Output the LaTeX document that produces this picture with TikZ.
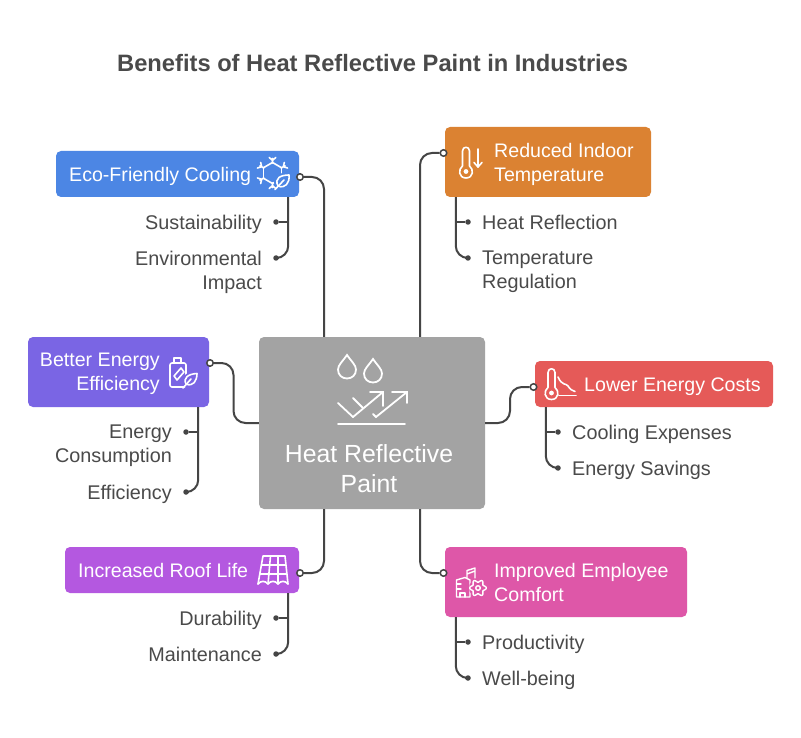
\documentclass[tikz,border=0pt]{standalone}
\usepackage{fontspec}
\setmainfont{Liberation Sans}
\definecolor{cblue}{HTML}{4C86E4}
\definecolor{cviolet}{HTML}{7A65E4}
\definecolor{cpurple}{HTML}{B458E0}
\definecolor{corange}{HTML}{DB8232}
\definecolor{cred}{HTML}{E55A58}
\definecolor{cpink}{HTML}{DE57A8}
\definecolor{cgray}{HTML}{A3A3A3}
\definecolor{cline}{HTML}{454545}
\definecolor{ctext}{HTML}{4A4A4A}
\tikzset{
  boxnode/.style={rectangle,rounded corners=5pt,inner sep=0pt,draw=none},
  boxtext/.style={inner sep=0pt,text=white,yshift=9.6pt,font=\fontsize{19.6}{24}\selectfont,execute at begin node=\strut},
  subtext/.style={inner sep=0pt,text=ctext,yshift=9.6pt,font=\fontsize{19.8}{24}\selectfont,execute at begin node=\strut},
  lft/.style={anchor=north west,align=left},
  rgt/.style={anchor=north east,align=right},
  twolines/.style={yshift=-2.3pt},
  port/.style={circle,draw=cline,fill=white,line width=1.5pt,minimum size=6.5pt,inner sep=0pt},
  dotnode/.style={circle,fill=cline,minimum size=5.5pt,inner sep=0pt},
  link/.style={draw=cline,line width=2pt,rounded corners=12pt},
  icon/.style={draw=white,line width=1.6pt,line cap=round,line join=round},
  bigicon/.style={draw=white,line width=1.8pt,line cap=round,line join=miter},
  myDrop/.pic={
    \draw[bigicon] (0,0) .. controls (-4,6) and (-9,10) .. (-9,14.5) .. controls (-9,20) and (-5,23.5) .. (0,23.5)
      .. controls (5,23.5) and (9,20) .. (9,14.5) .. controls (9,10) and (4,6) .. (0,0) -- cycle;
  },
  myThermo/.pic={
    \draw[icon] (3.5,-5.5) -- (3.5,-20.5) .. controls (3.5,-25.5) and (-3.5,-25.5) .. (-3.5,-20.5) -- (-3.5,-5.5)
      .. controls (-8,-2.5) and (-7.5,6.5) .. (0,6.5) .. controls (7.5,6.5) and (8,-2.5) .. (3.5,-5.5);
    \fill[white] (0,0) circle[radius=2.4];
  },
}
\begin{document}
\begin{tikzpicture}[x=1pt,y=-1pt]
\useasboundingbox (0,0) rectangle (801,738);
\fill[white] (0,0) rectangle (801,738);

\node[inner sep=0pt,anchor=base west,text=ctext,font=\fontsize{23.7}{28}\bfseries\selectfont] (title) at (117,72) {Benefits of Heat Reflective Paint in Industries};

% main boxes
\node[boxnode,fill=cgray,minimum width=226pt,minimum height=172pt] (hub) at (372,423) {};
\node[boxnode,fill=cblue,minimum width=243pt,minimum height=46pt] (eco) at (177.5,174) {};
\node[boxnode,fill=cviolet,minimum width=181pt,minimum height=70pt] (better) at (118.5,372) {};
\node[boxnode,fill=cpurple,minimum width=234pt,minimum height=46pt] (roof) at (182,570) {};
\node[boxnode,fill=corange,minimum width=206pt,minimum height=70pt] (indoor) at (548,162) {};
\node[boxnode,fill=cred,minimum width=238pt,minimum height=46pt] (costs) at (654,384) {};
\node[boxnode,fill=cpink,minimum width=242pt,minimum height=70pt] (comfort) at (566,582) {};

% box labels
\node[inner sep=0pt,text=white,font=\fontsize{24.8}{30}\selectfont,align=center,anchor=north,yshift=10pt,execute at begin node=\strut] (hubtext) at (369,454) {Heat Reflective\\Paint};
\node[boxtext,lft] (ecotext) at (69,174) {Eco-Friendly Cooling};
\node[boxtext,rgt,twolines] (bettertext) at (160,360) {Better Energy\\Efficiency};
\node[boxtext,lft] (rooftext) at (78,570) {Increased Roof Life};
\node[boxtext,lft,twolines] (indoortext) at (494,150) {Reduced Indoor\\Temperature};
\node[boxtext,lft] (coststext) at (584,384) {Lower Energy Costs};
\node[boxtext,lft,twolines] (comforttext) at (494,570) {Improved Employee\\Comfort};

% sub texts
\node[subtext,rgt] (s1) at (262,222) {Sustainability};
\node[subtext,rgt,twolines] (s2) at (262,258) {Environmental\\Impact};
\node[subtext,rgt,twolines] (s3) at (172,432) {Energy\\Consumption};
\node[subtext,rgt] (s4) at (172,492) {Efficiency};
\node[subtext,rgt] (s5) at (262,618) {Durability};
\node[subtext,rgt] (s6) at (262,654) {Maintenance};
\node[subtext,lft] (s7) at (482,222) {Heat Reflection};
\node[subtext,lft,twolines] (s8) at (482,258) {Temperature\\Regulation};
\node[subtext,lft] (s9) at (572,432) {Cooling Expenses};
\node[subtext,lft] (s10) at (572,468) {Energy Savings};
\node[subtext,lft] (s11) at (482,642) {Productivity};
\node[subtext,lft] (s12) at (482,678) {Well-being};

% ports
\node[port] (peco) at (300,177) {};
\node[port] (pbetter) at (210,363) {};
\node[port] (proof) at (300,573) {};
\node[port] (pindoor) at (443.5,153) {};
\node[port] (pcosts) at (533.5,387) {};
\node[port] (pcomfort) at (443.5,573) {};

% dots
\node[dotnode] (d1) at (276,222) {};
\node[dotnode] (d2) at (276,258) {};
\node[dotnode] (d3) at (186,432) {};
\node[dotnode] (d4) at (186,492) {};
\node[dotnode] (d5) at (276,618) {};
\node[dotnode] (d6) at (276,654) {};
\node[dotnode] (d7) at (468,222) {};
\node[dotnode] (d8) at (468,258) {};
\node[dotnode] (d9) at (558,432) {};
\node[dotnode] (d10) at (558,468) {};
\node[dotnode] (d11) at (468,642) {};
\node[dotnode] (d12) at (468,678) {};

% bends and trunks
\coordinate (bendbetter) at (233.5,363);
\coordinate (bendcosts) at (510,387);
\coordinate (teco) at ([xshift=-11pt]eco.south east);
\coordinate (tbetter) at ([xshift=-11pt]better.south east);
\coordinate (troof) at ([xshift=-11pt]roof.south east);
\coordinate (tindoor) at ([xshift=11pt]indoor.south west);
\coordinate (tcosts) at ([xshift=11pt]costs.south west);
\coordinate (tcomfort) at ([xshift=11pt]comfort.south west);

% hub connectors
\draw[link] ([xshift=-48pt]hub.north) |- (peco.east);
\draw[link] ([xshift=48pt]hub.north) |- (pindoor.west);
\draw[link] ([xshift=-48pt]hub.south) |- (proof.east);
\draw[link] ([xshift=48pt]hub.south) |- (pcomfort.west);
\draw[link] (hub.west) -| (bendbetter) -- (pbetter.east);
\draw[link] (hub.east) -| (bendcosts) -- (pcosts.west);

% sub connectors
\draw[link] (teco) |- (d2);
\draw[link] (d1) -- (d1 -| teco);
\draw[link] (tbetter) |- (d4);
\draw[link] (d3) -- (d3 -| tbetter);
\draw[link] (troof) |- (d6);
\draw[link] (d5) -- (d5 -| troof);
\draw[link] (tindoor) |- (d8);
\draw[link] (d7) -- (d7 -| tindoor);
\draw[link] (tcosts) |- (d10);
\draw[link] (d9) -- (d9 -| tcosts);
\draw[link] (tcomfort) |- (d12);
\draw[link] (d11) -- (d11 -| tcomfort);

% hub icon
\pic at (347,355) {myDrop};
\pic at (373,359) {myDrop};
\draw[bigicon] (338,403) -- (353,417) -- (383,392);
\draw[bigicon] (370,392) -- (383,392) -- (383,406);
\draw[bigicon] (353,398) -- (363,408);
\draw[bigicon] (373,414) -- (376,417) -- (407,392);
\draw[bigicon] (392,392) -- (407,392) -- (407,403);
\draw[bigicon] (338,424) -- (405,424);

% snowflake + leaf icon
\begin{scope}[shift={(272.5,173)}]
  \foreach \a in {30,90,150,210,270,330}{
    \draw[icon,rotate=\a] (10,0) -- (14.5,0) (15.5,3.2) -- (12.5,0) -- (15.5,-3.2);
    \draw[icon] (\a:10.5) -- (\a+60:10.5);
  }
\end{scope}
\fill[cblue] (283,182) circle[radius=9];
\draw[icon] (278,186) .. controls (274,178) and (281,175) .. (289,175) .. controls (290,183) and (285,189) .. (278,186) -- cycle;
\draw[icon] (275,189.5) -- (284,180);

% battery + leaf icon
\draw[icon,rounded corners=2pt] (170,363) rectangle (186,387);
\draw[icon] (174,363) -- (174,358) -- (181,358) -- (181,363);
\fill[cviolet] (191,381) circle[radius=8.5];
\draw[icon] (181,368) -- (184,372) -- (177,380) -- (174,376) -- cycle;
\draw[icon] (186,384) .. controls (183,378) and (188,374) .. (197,373.5) .. controls (197,381) and (193,387) .. (186,384) -- cycle;
\draw[icon] (183,388) -- (191,379);

% roof icon
\draw[icon] (263,556) -- (285,556) -- (288,584) (263,556) -- (258,584)
  (270.5,556) -- (268,584) (278,556) -- (278,584)
  (261.5,565) -- (286,565) (260,574) -- (287,574);
\draw[icon] (258,584) .. controls (261,580.5) and (265,580.5) .. (268,584)
  .. controls (271,580.5) and (275,580.5) .. (278,584) .. controls (281,580.5) and (285,580.5) .. (288,584);

% thermometer, arrow
\pic at (466,171.5) {myThermo};
\draw[icon] (478,149) -- (478,167);
\draw[icon] (474,162.5) -- (478,167) -- (482,162.5);

% thermometer, falling curve
\pic at (551.5,393) {myThermo};
\draw[icon] (558,377) .. controls (562,386) and (566,383) .. (568,386) .. controls (570,389) and (572,391) .. (575,391.5);
\draw[icon] (559,395.5) -- (576,395.5);

% factory + gear icon
\draw[icon,line width=1.4pt] (456.5,597) -- (456.5,580) -- (465,577.5) -- (470,580) -- (470,597) -- cycle;
\draw[icon,line width=1.4pt] (456.5,584) -- (461,584) (456.5,589) -- (461,589);
\draw[icon,line width=1.4pt] (460,597) -- (460,593) -- (465,593) -- (465,597);
\draw[icon,line width=1.4pt] (467,578) -- (467,570.5) -- (475,568) -- (475,578) (467,574) -- (475,571);
\fill[cpink] (478,588) circle[radius=9];
\draw[icon,line width=1.4pt] plot[domain=0:360,samples=73,smooth] ({478+(7+1.3*cos(6*\x))*cos(\x)},{588+(7+1.3*cos(6*\x))*sin(\x)}) -- cycle;
\draw[icon,line width=1.4pt] (478,588) circle[radius=2.3];
\end{tikzpicture}
\end{document}
